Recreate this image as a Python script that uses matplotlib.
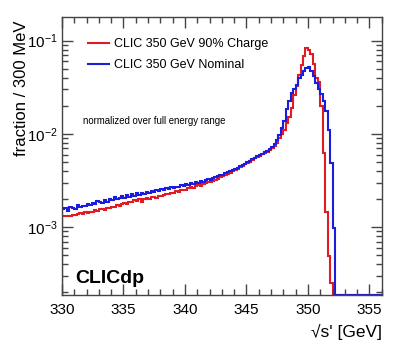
import matplotlib
matplotlib.use("Agg")
import matplotlib.pyplot as plt
import numpy as np
from matplotlib.ticker import MultipleLocator, LogLocator, NullFormatter

plt.rcParams['font.family'] = ['Liberation Sans', 'DejaVu Sans']
plt.rcParams['mathtext.fontset'] = 'custom'
plt.rcParams['mathtext.rm'] = 'Liberation Sans'
plt.rcParams['mathtext.it'] = 'Liberation Sans'

# binning: 330 -> 356 GeV
x_lo = 330.0
x_hi = 356.0
bin_w = 0.2

# fraction per bin (units of 1e-3 for the tail)
red_tail = [1.30, 1.32, 1.31, 1.33, 1.36, 1.34, 1.38, 1.41, 1.37, 1.44,
            1.42, 1.47, 1.45, 1.52, 1.49, 1.55, 1.58, 1.53, 1.62, 1.60,
            1.66, 1.63, 1.72, 1.69, 1.78, 1.83, 1.76, 1.88, 1.85, 1.93,
            1.90, 1.98, 1.87, 2.02, 2.05, 1.99, 2.08, 2.12, 2.06, 2.18,
            2.15, 2.22, 2.28, 2.24, 2.33, 2.30, 2.41, 2.38, 2.47, 2.52,
            2.49, 2.60, 2.72, 2.64, 2.75, 2.82, 2.79, 2.91, 2.98, 3.06,
            3.02, 3.15, 3.24, 3.30, 3.42, 3.50, 3.62, 3.71, 3.85, 3.98,
            4.10, 4.22, 4.38, 4.52, 4.70, 4.88, 5.02, 5.25, 5.45, 5.62,
            5.85, 6.02, 6.30, 6.45, 6.70, 7.00, 7.45, 8.00]
red_peak = [9.0e-3, 1.0e-2, 1.1e-2, 1.3e-2, 1.5e-2, 1.9e-2, 2.6e-2, 3.3e-2,
            4.3e-2, 5.5e-2, 6.8e-2, 8.4e-2, 8.0e-2, 7.2e-2, 5.6e-2, 4.0e-2,
            3.6e-2, 2.0e-2, 6.2e-3, 1.44e-3, 4.9e-4, 2.5e-4]

blue_tail = [1.58, 1.62, 1.50, 1.66, 1.60, 1.58, 1.72, 1.66, 1.70, 1.68,
             1.78, 1.74, 1.82, 1.76, 1.90, 1.84, 1.80, 1.95, 1.88, 2.02,
             1.93, 2.10, 1.98, 2.06, 2.15, 2.05, 2.20, 2.12, 2.25, 2.18,
             2.30, 2.22, 2.35, 2.28, 2.40, 2.33, 2.45, 2.40, 2.50, 2.44,
             2.55, 2.48, 2.60, 2.56, 2.66, 2.62, 2.72, 2.68, 2.80, 2.76,
             2.88, 2.84, 2.97, 2.92, 3.05, 3.00, 3.12, 3.08, 3.20, 3.28,
             3.22, 3.35, 3.42, 3.50, 3.58, 3.66, 3.80, 3.88, 4.00, 4.10,
             4.25, 4.35, 4.50, 4.65, 4.80, 4.98, 5.12, 5.35, 5.55, 5.75,
             5.95, 6.15, 6.40, 6.60, 6.90, 7.25, 7.80, 8.50]
blue_peak = [9.8e-3, 1.16e-2, 1.37e-2, 1.83e-2, 2.25e-2, 2.75e-2, 3.0e-2,
             3.37e-2, 4.0e-2, 4.3e-2, 4.7e-2, 5.1e-2, 5.2e-2, 4.7e-2,
             4.17e-2, 3.5e-2, 3.0e-2, 2.65e-2, 2.25e-2, 1.75e-2, 1.1e-2,
             4.9e-3, 9.75e-4]

y_lo, y_hi = 1.87e-4, 0.177

n_bins = int(round((x_hi - x_lo) / bin_w))
edges = np.linspace(x_lo, x_hi, n_bins + 1)

def build(tail, peak):
    v = np.concatenate([np.array(tail) * 1e-3, np.array(peak)])
    v = np.concatenate([v, np.zeros(n_bins - len(v))])
    return np.where(v > 0, v, y_lo)  # empty bins sit on the axis, like ROOT

red = build(red_tail, red_peak)
blue = build(blue_tail, blue_peak)

fig = plt.figure(figsize=(4.15, 3.52), dpi=100)
ax = fig.add_axes([0.1494, 0.1619, 0.7704, 0.7884])

ax.stairs(red, edges, color='#e01b24', lw=1.5, label='CLIC 350 GeV 90% Charge')
ax.stairs(blue, edges, color='#1c1cdc', lw=1.5, label='CLIC 350 GeV Nominal')

ax.set_yscale('log')
ax.set_xlim(x_lo, x_hi)
ax.set_ylim(y_lo, y_hi)

ax.xaxis.set_major_locator(MultipleLocator(5))
ax.xaxis.set_minor_locator(MultipleLocator(1))
ax.yaxis.set_major_locator(LogLocator(base=10))
ax.yaxis.set_minor_locator(LogLocator(base=10, subs=np.arange(2, 10)))
ax.yaxis.set_minor_formatter(NullFormatter())

ax.tick_params(which='both', direction='in', top=True, right=True, color='#444444')
ax.tick_params(which='major', length=8, width=1)
ax.tick_params(which='minor', length=4, width=1)
ax.tick_params(axis='x', labelsize=11, pad=6)
ax.tick_params(axis='y', labelsize=11, pad=3)
for s in ax.spines.values():
    s.set_color('#444444')
    s.set_linewidth(1)

ax.set_xlabel("\u221as' [GeV]", fontsize=12.5, loc='right')
ax.set_ylabel("fraction / 300 MeV", fontsize=12, loc='top')
ax.xaxis.set_label_coords(1.0, -0.105)
ax.yaxis.set_label_coords(-0.102, 0.99)

ax.legend(loc='upper left', bbox_to_anchor=(0.08, 0.925), frameon=False,
          fontsize=9, handlelength=1.7, handletextpad=0.45, labelspacing=0.7,
          borderpad=0, borderaxespad=0)

ax.text(0.066, 0.627, "normalized over full energy range", transform=ax.transAxes,
        fontsize=6.9, va='center', ha='left')
ax.text(0.04, 0.06, "CLICdp", transform=ax.transAxes, fontsize=14,
        fontweight='bold', va='center', ha='left')

plt.savefig("out.png", dpi=100)
